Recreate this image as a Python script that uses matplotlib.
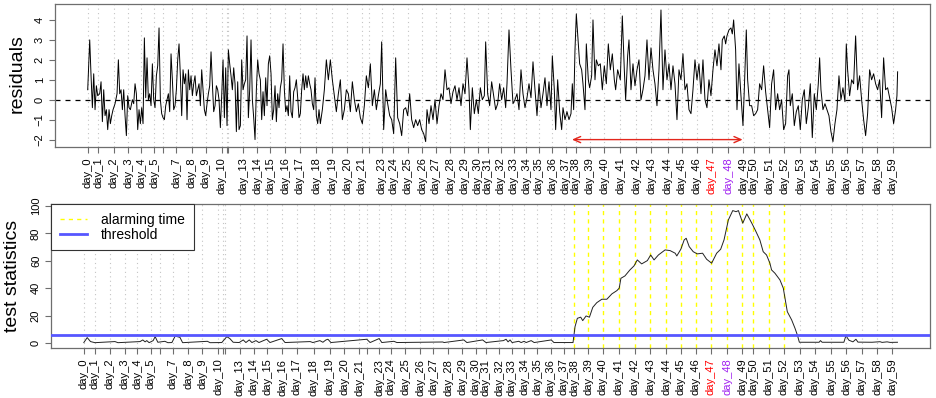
import numpy as np
import matplotlib
matplotlib.use('Agg')
import matplotlib.pyplot as plt
from matplotlib.lines import Line2D

plt.rcParams['font.family'] = ['Liberation Sans', 'DejaVu Sans']

# ---- data (x axis = observation index) ----
day_labels = ['day_%d' % i for i in range(60)]
day_pos = [0, 32, 78, 122, 160, 200, 226, 266, 312, 354, 402, 417, 422, 466, 508,
           548, 592, 636, 686, 734, 778, 822, 845, 882, 916, 960, 1004, 1044, 1088,
           1130, 1170, 1200, 1240, 1278, 1316, 1354, 1394, 1434, 1464, 1506, 1550,
           1598, 1646, 1691, 1740, 1783, 1827, 1872, 1922, 1967, 1999, 2045, 2090,
           2138, 2183, 2232, 2277, 2323, 2369, 2415]
# labels R dropped because they overlapped
hidden_labels = ['day_6', 'day_11', 'day_12', 'day_22']
label_colors = {'day_47': 'red', 'day_48': '#a020f0'}
alarm_days = ['day_%d' % i for i in range(38, 53)]

res_t_a = [0, 6, 10, 14, 18, 22, 26, 30, 36, 40, 44, 48, 52, 56, 60, 64, 68, 72, 76, 82,
           88, 92, 96, 100, 104, 108, 112, 116, 120, 124, 128, 134, 138, 142, 146, 150,
           154, 158, 162, 166, 170, 174, 178, 182, 186, 190, 194, 198, 202, 206, 210, 214]
res_v_a = [0.5, 3.0, 1.2, -0.4, 1.3, -0.5, 0.7, 0.2, 0.3, 0.9, -1.1, 0.5, -0.8, -0.5, -1.5,
           -0.5, -1.2, -0.8, -0.5, -0.2, 0.3, 2.0, 0.3, 0.5, -0.5, 0.5, -0.8, -1.8, 0.2,
           -0.4, -0.5, 0.0, -0.2, 0.8, 0.3, -1.5, -0.5, -1.2, -0.4, -1.2, 3.1, 0.1, 2.1,
           0.0, 0.3, -0.3, 1.8, 0.0, -0.4, 1.2, 1.7, 3.6]

res_t_b = [218, 222, 226, 230, 234, 238, 242, 246, 250, 254, 258, 262, 266, 270, 274, 278,
           282, 286, 290, 294, 298, 302, 306, 310, 314, 318, 322, 326, 330, 334, 338, 342,
           346, 350, 354, 358, 362, 366, 370, 374, 378, 382, 386, 390, 394, 398, 402, 406,
           410, 414, 418, 422, 426, 430, 434, 438, 442, 446, 450, 454, 458, 462, 466, 470,
           474, 478, 482, 486, 490, 494, 498, 502, 506, 510, 514, 518, 522, 526, 530, 534,
           538, 542, 546, 550, 554, 558, 562, 566, 570, 574, 578, 582, 586, 590, 594, 598,
           602, 606, 610, 614, 618, 622, 626, 630, 634, 638, 642, 646, 650, 654, 658, 662,
           666, 670, 674, 678, 682, 686, 690, 694]
res_v_b = [0.0, -0.7, -0.9, -1.0, -0.3, 0.0, 0.3, -0.6, 2.3, 1.0,
           -0.5, -0.3, 0.5, 2.0, 2.8, 1.2, -0.8, 1.5, 0.8, 1.3,
           -1.0, 1.5, 0.5, 1.2, 0.2, 0.8, 1.2, 0.2, 0.5, 0.8,
           -0.3, 1.5, 0.5, -0.5, -0.8, -0.2, 0.3, 0.7, 2.4, 0.8,
           -0.6, -0.3, 0.7, 0.5, 0.0, -1.4, 0.2, 2.0, -0.9, 1.6,
           -1.3, 2.5, 1.8, 1.2, 0.5, 1.6, 0.8, -1.6, 0.9, -1.5,
           -1.3, 2.0, 0.5, 0.8, 1.0, 3.2, -0.9, 0.5, 3.0, 0.0,
           -0.9, -2.0, 0.5, 2.0, 1.3, 1.0, -1.0, 0.4, -0.8, 1.1,
           -0.3, 1.8, 2.2, 1.3, -1.0, -0.5, 0.7, -1.1, 0.3, -0.4,
           0.6, 1.0, 2.8, 0.5, -0.6, -0.3, -0.8, 1.2, -0.6, -0.9,
           0.4, 0.6, 1.0, 0.1, -0.9, -0.7, 0.5, 1.3, 0.5, 1.2,
           0.6, 1.2, 0.8, 0.5, -0.2, -0.5, 1.1, -0.8, -1.2, -0.5]

res_t_c = [698, 704, 710, 716, 722, 728, 734, 740, 746, 752, 758, 764, 770, 776, 782, 788,
           794, 800, 806, 812, 818, 824, 830, 836, 842, 848, 854, 860, 866, 872, 878, 882,
           888, 894, 900, 906, 912, 918, 924, 930, 936, 942, 948, 954, 960, 966, 972, 978,
           984, 990, 996, 1002, 1008, 1014, 1018, 1024, 1030, 1036, 1042, 1048, 1054, 1060,
           1066, 1072, 1078, 1084, 1090, 1096, 1102, 1108, 1114, 1120, 1126, 1132, 1138,
           1144, 1148, 1154, 1160, 1166, 1172, 1178, 1184, 1190, 1194, 1200, 1206, 1212,
           1218, 1224, 1230, 1236, 1242, 1248, 1254, 1258, 1264, 1270, 1276, 1282, 1288,
           1294, 1300, 1306, 1312, 1318, 1324, 1330, 1336, 1342, 1348, 1354, 1360, 1366,
           1372, 1378, 1384, 1390, 1394, 1400, 1404, 1410, 1416, 1422, 1426, 1432, 1438,
           1444, 1450, 1454, 1458, 1462, 1466, 1472, 1476, 1482, 1486, 1492, 1496, 1502,
           1506, 1512, 1516, 1522, 1526, 1532, 1538, 1544, 1550, 1556, 1562, 1568, 1574,
           1580, 1584, 1590]
res_v_c = [-1.2, -0.5, 0.5, 2.0, 1.0, 2.0, 1.0, 0.2, -0.6, 0.3, 1.0, -1.0, -0.5, 0.5, 0.3, -0.6,
           0.9, 0.0, -0.6, -0.2, -0.9, -1.2, -0.3, 1.2, 0.6, 1.8, -0.3, 0.5, -0.5, 0.2, 0.8, 2.9,
           -1.5, 0.5, -0.2, -0.8, -1.0, -1.7, 2.1, -0.9, -1.2, -1.8, -0.5, -0.4, -0.8, 0.3, -1.0,
           -1.4, -1.0, -1.3, -1.0, -1.5, -1.7, -2.1, -0.5, -1.2, -0.3, -1.0, 0.0, -1.2, -0.3, 0.3,
           0.0, 1.5, 0.5, 0.6, -0.2, 0.4, 0.7, 0.0, 0.6, -0.3, 0.8, 0.3, 2.1,
           0.5, -1.5, 0.6, -0.7, 0.0, -0.7, 0.6, 0.0, 0.2, 2.9, 0.3, -0.3, 0.9,
           0.2, -0.5, -0.2, 0.8, 0.0, 0.6, -0.4, 0.8, 3.5, 1.5, -0.2, 0.0, 0.3,
           -0.5, 1.5, 0.3, -0.4, 0.1, 0.8, 0.1, 1.9, 0.5, -0.8, 0.8, -0.4, 0.3,
           1.1, -0.3, 0.9, -0.5, 2.2, 0.5, -1.5, 1.0, -0.6, -1.5, -0.4, -1.0, -0.6,
           -1.0, -0.7, 0.8, -0.5, 2.5, 4.3, 2.8, 1.8, 1.5, 0.8, -0.5, 2.8, 1.0,
           0.6, 1.2, 4.0, 1.0, 2.0, 1.7, 1.8, 0.5, 1.7, 0.8, 2.8, 1.5, 2.3,
           1.0, 0.5, 1.5]

res_t_d = [1598, 1604, 1610, 1614, 1620, 1624, 1630, 1636, 1642, 1648, 1654, 1660, 1666,
           1672, 1678, 1684, 1690, 1696, 1702, 1708, 1714, 1720, 1726, 1732, 1738, 1744,
           1750, 1756, 1762, 1768, 1774, 1780, 1786, 1792, 1798, 1804, 1810, 1816, 1822,
           1828, 1834, 1840, 1846, 1852, 1858, 1864, 1870, 1876, 1882, 1888, 1894, 1900,
           1904, 1910, 1914, 1918, 1924, 1930, 1934, 1938, 1944, 1948, 1954, 1960, 1966,
           1970, 1976, 1980, 1986, 1992, 1998, 2004, 2010, 2016, 2022, 2028, 2034, 2040,
           2046, 2052, 2058, 2064, 2070, 2076, 2082, 2088, 2094, 2100, 2104, 2108, 2114,
           2120, 2126, 2132, 2138, 2144, 2150, 2156, 2162, 2168, 2174, 2180, 2186, 2192,
           2196, 2200, 2206, 2212, 2218, 2224, 2230, 2236, 2242, 2248, 2254, 2260, 2266,
           2272, 2276, 2280, 2286, 2292, 2298, 2304, 2310, 2316, 2322, 2328, 2334, 2340,
           2346, 2352, 2358, 2364, 2370, 2376, 2382, 2388, 2394, 2400, 2406, 2412, 2418,
           2424, 2428, 2430]
res_v_d = [1.0, 4.2, 1.5, 0.0, 2.2, 3.0, 0.5, 1.8, 0.7, 1.5, 2.0, 0.0, 0.5,
           1.2, 3.0, 1.0, 2.6, 1.5, 0.8, -0.3, 1.5, 4.5, 0.5, 2.5, 1.0, 1.8,
           0.5, 1.7, 0.8, -1.0, 1.5, 1.0, 2.3, 0.5, 0.8, -0.5, -0.7, 0.5, 2.0,
           1.0, 1.8, 0.3, 2.0, 0.0, -0.4, 1.0, 0.2, 1.5, 2.5, 1.7, 2.8, 1.5,
           3.0, 3.2, 2.8, 3.2, 3.5, 3.6, 3.3, 4.0, 2.5, -0.5, 1.8, 0.2, -1.3,
           0.5, 3.5, 1.0, -0.3, -0.3, -0.8, -0.7, -0.5, 0.8, 0.5, 1.7, 0.4, -0.5,
           -1.4, 0.8, 1.5, -0.5, 0.3, -0.5, 0.0, -1.5, -1.2, 1.2, 1.5, -0.3, 0.3,
           -1.3, -0.6, -0.3, -1.5, 0.0, 0.5, -1.2, -0.4, 0.8, -1.9, 0.3, -0.5, 0.8,
           2.1, 0.5, -0.5, -0.2, -0.5, -0.8, -1.6, -2.1, -1.2, -0.5, 1.2, 0.0, 0.6,
           -0.1, 2.8, 1.5, 0.2, 1.0, 0.8, 3.2, 0.5, 1.2, 0.0, -1.0, -1.8, -0.7,
           1.5, 1.0, 1.3, 0.8, 0.5, 1.0, -0.9, 2.1, 0.5, 0.6, 0.1, -0.4, -1.2,
           -0.5, 0.2, 1.4]

stat_t = [0, 10, 20, 33, 93, 102, 168, 176, 183, 188, 195, 207, 213, 221, 242, 251, 263,
          273, 279, 287, 295, 369, 377, 412, 427, 436, 446, 464, 476, 484, 494, 502, 514,
          523, 546, 556, 591, 601, 676, 684, 705, 714, 723, 729, 738, 845, 855, 882, 890,
          926, 935, 1072, 1076, 1135, 1144, 1191, 1201, 1253, 1261, 1267, 1273, 1279, 1299,
          1306, 1315, 1321, 1336, 1345, 1396, 1404, 1461, 1467, 1474, 1484, 1490, 1500,
          1510, 1520, 1532, 1547, 1562, 1577, 1592, 1599, 1604, 1616, 1631, 1643, 1653,
          1666, 1683, 1693, 1703, 1716, 1736, 1751, 1766, 1771, 1783, 1793, 1799, 1808,
          1820, 1832, 1848, 1860, 1875, 1890, 1902, 1912, 1925, 1938, 1948, 1955, 1968,
          1980, 1995, 2006, 2019, 2029, 2039, 2049, 2054, 2064, 2079, 2089, 2096, 2101,
          2114, 2124, 2131, 2137, 2196, 2200, 2205, 2270, 2276, 2285, 2297, 2306, 2312,
          2354, 2378, 2384, 2399, 2408, 2430]
stat_v = [0.3, 3.9, 1.0, 0.2, 1.0, 0.2, 1.0, 2.2, 0.8, 1.7, 0.2, 1.7, 4.6, 0.5, 1.2, 0.2, 0.3,
          5.1, 4.6, 4.1, 0.2, 1.2, 0.2, 0.3, 4.6, 3.2, 0.5, 0.3, 2.2, 0.3, 2.2, 0.3, 1.7,
          0.3, 2.7, 0.3, 3.2, 0.3, 1.0, 0.3, 1.7, 0.5, 2.2, 2.7, 0.3, 2.7, 0.3, 3.2, 0.3,
          1.2, 0.3, 0.7, 0.3, 2.2, 0.3, 2.2, 0.3, 1.7, 2.7, 0.8, 2.2, 0.3, 1.2,
          0.3, 1.2, 0.3, 1.7, 0.3, 2.2, 0.3, 0.3, 11.9, 18.0, 18.8, 16.3, 19.7,
          18.8, 26.0, 29.4, 31.9, 31.9, 35.8, 38.2, 40.0, 47.2, 48.9, 53.3, 56.2, 60.6,
          57.7, 60.1, 64.2, 60.6, 64.2, 67.9, 67.4, 65.5, 63.5, 68.4, 75.2, 76.4, 70.3,
          66.6, 65.0, 65.5, 61.1, 58.2, 65.5, 68.4, 75.2, 89.8, 96.6, 95.8, 96.6, 87.4,
          94.2, 87.4, 82.0, 75.2, 66.6, 64.2, 58.2, 53.3, 50.9, 46.0, 40.0, 30.1, 22.8,
          16.8, 10.7, 5.8, 0.5, 0.5, 1.7, 0.5, 0.5, 5.3, 2.0, 0.8, 2.7, 0.6,
          0.5, 0.9, 0.4, 0.8, 0.4, 0.5]

threshold = 5.8
arrow_start, arrow_end, arrow_y = 1453, 1965, -2.0

for name, t, v in [('a', res_t_a, res_v_a), ('b', res_t_b, res_v_b),
                   ('c', res_t_c, res_v_c), ('d', res_t_d, res_v_d),
                   ('stat', stat_t, stat_v)]:
    if len(t) != len(v):
        raise ValueError('length mismatch in %s: %d vs %d' % (name, len(t), len(v)))

res_t = np.array(res_t_a + res_t_b + res_t_c + res_t_d)
res_v = np.array(res_v_a + res_v_b + res_v_c + res_v_d)

shown_labels = ['' if lab in hidden_labels else lab for lab in day_labels]
pad = 0.04 * (res_t[-1] - res_t[0])
x_range = (res_t[0] - pad, res_t[-1] + pad)

grid_color = '#c4c4c4'
frame_color = '#6e6e6e'
blue = '#5656ff'


def style_axis(ax):
    for s in ax.spines.values():
        s.set_color(frame_color)
        s.set_linewidth(0.9)
    ax.tick_params(axis='both', colors=frame_color, labelcolor='black',
                   length=4.5, width=0.8, labelsize=8, pad=3)
    ax.tick_params(axis='y', labelrotation=90)
    for lbl in ax.get_yticklabels():
        lbl.set_va('center')
    ax.set_xlim(*x_range)
    ax.set_xticks(day_pos)
    ax.set_xticklabels(shown_labels, rotation=90)
    for lbl, name in zip(ax.get_xticklabels(), day_labels):
        lbl.set_color(label_colors.get(name, 'black'))


fig = plt.figure(figsize=(9.36, 3.98), dpi=100)

# ---- top: residuals ----
ax1 = fig.add_axes([0.0591, 0.6307, 0.9345, 0.3593])
for x in day_pos:
    ax1.axvline(x, color=grid_color, ls=(0, (1, 3)), lw=0.8, zorder=0)
ax1.axhline(0, color='black', ls=(0, (4, 4)), lw=0.9, zorder=1)
ax1.plot(res_t, res_v, color='black', lw=0.7, zorder=2)
ax1.annotate('', xy=(arrow_end, arrow_y), xytext=(arrow_start, arrow_y),
             arrowprops=dict(arrowstyle='<->,head_length=0.5,head_width=0.22',
                             color='#e3261c', lw=1.0, shrinkA=0, shrinkB=0))
ax1.set_ylim(-2.37, 4.8)
ax1.set_yticks([-2, -1, 0, 1, 2, 3, 4])
style_axis(ax1)
fig.text(17 / 936, 0.815, 'residuals', rotation=90, ha='center', va='center', fontsize=14)

# ---- bottom: test statistics ----
ax2 = fig.add_axes([0.0548, 0.1249, 0.9388, 0.3618])
for x, name in zip(day_pos, day_labels):
    if name in alarm_days:
        ax2.axvline(x, color='yellow', ls=(0, (3, 3)), lw=1.0, zorder=0)
    else:
        ax2.axvline(x, color=grid_color, ls=(0, (1, 3)), lw=0.8, zorder=0)
ax2.plot(stat_t, stat_v, color='#222222', lw=0.7, zorder=2)
ax2.axhline(threshold, color=blue, lw=2.0, zorder=3)
ax2.set_ylim(-3.9, 101.2)
ax2.set_yticks([0, 20, 40, 60, 80, 100])
style_axis(ax2)
fig.text(13 / 936, 0.3065, 'test statistics', rotation=90, ha='center', va='center', fontsize=14)

handles = [Line2D([], [], color='yellow', ls=(0, (3, 3)), lw=1.0),
           Line2D([], [], color=blue, lw=2.0)]
leg = ax2.legend(handles, ['alarming time', 'threshold'], loc='upper left',
                 bbox_to_anchor=(0, 1), borderaxespad=0, fancybox=False,
                 framealpha=1, edgecolor='#333333', fontsize=10,
                 handlelength=2.0, handletextpad=1.0, borderpad=0.6,
                 labelspacing=0.1)
leg.get_frame().set_linewidth(0.8)

fig.savefig('out.png', dpi=100)
